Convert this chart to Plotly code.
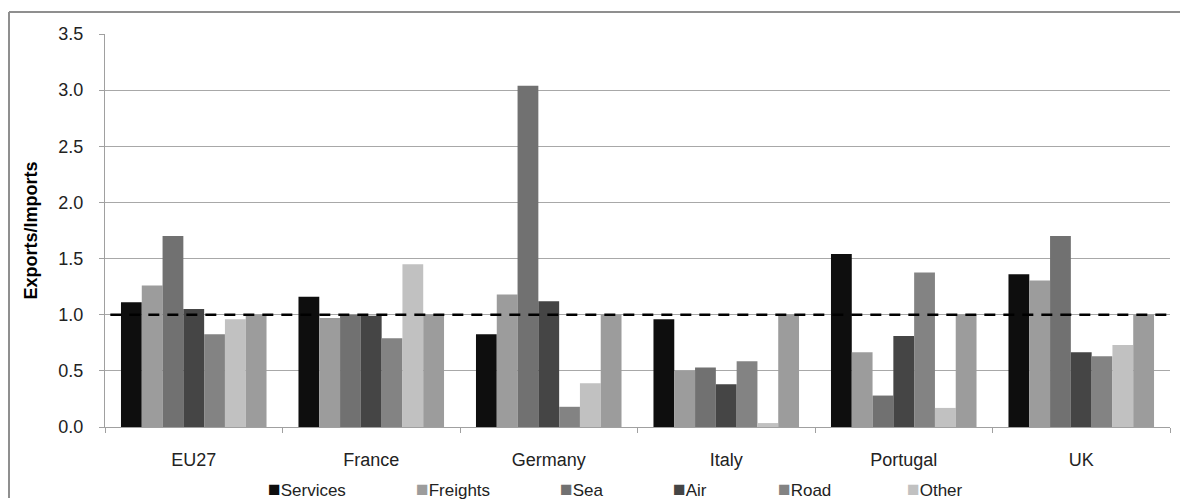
import plotly.graph_objects as go

# Export/import ratios by transport mode
countries = ["EU27", "France", "Germany", "Italy", "Portugal", "UK"]
services = [1.11, 1.16, 0.825, 0.96, 1.54, 1.36]
freights = [1.26, 0.97, 1.18, 0.50, 0.665, 1.305]
sea = [1.70, 1.00, 3.04, 0.53, 0.28, 1.70]
air = [1.05, 0.99, 1.12, 0.38, 0.81, 0.665]
road = [0.825, 0.79, 0.18, 0.585, 1.375, 0.63]
other = [0.96, 1.45, 0.39, 0.035, 0.17, 0.73]
balance = [1.0, 1.0, 1.0, 1.0, 1.0, 1.0]  # parity bar, not listed in the legend
PARITY = 1.0

y_ticks = [0.0, 0.5, 1.0, 1.5, 2.0, 2.5, 3.0, 3.5]

series = [
    ("Services", services, "#0e0e0e", True),
    ("Freights", freights, "#9c9c9c", True),
    ("Sea", sea, "#717171", True),
    ("Air", air, "#454545", True),
    ("Road", road, "#838383", True),
    ("Other", other, "#c1c1c1", True),
    ("Balance", balance, "#9c9c9c", False),
]

FONT = "Liberation Sans, Arial, sans-serif"
W, H = 1181, 499
ML, MR, MT, MB = 105, 11, 34, 72
plot_w = W - ML - MR
plot_h = H - MT - MB

fig = go.Figure()
for name, vals, color, _ in series:
    fig.add_trace(go.Bar(
        x=countries, y=vals, name=name,
        marker=dict(color=color, line=dict(width=0)),
        showlegend=False,
    ))

# dashed parity line across the whole plot
fig.add_shape(type="line", xref="x domain", yref="y", x0=0.005, x1=0.998,
              y0=PARITY, y1=PARITY,
              line=dict(color="#000000", width=2.5, dash="11px,8px"))

# outer chart frame (top and left edges)
def px_to_paper_x(px):
    return (px - ML) / plot_w

def py_to_paper_y(py):
    return (H - MB - py) / plot_h

frame = dict(color="#8f8f8f", width=2)
fig.add_shape(type="line", xref="paper", yref="paper",
              x0=px_to_paper_x(9), x1=px_to_paper_x(W - 1),
              y0=py_to_paper_y(12), y1=py_to_paper_y(12),
              line=frame, layer="below")
fig.add_shape(type="line", xref="paper", yref="paper",
              x0=px_to_paper_x(9), x1=px_to_paper_x(9),
              y0=py_to_paper_y(12), y1=py_to_paper_y(H - 1),
              line=frame, layer="below")

# legend entries
legend_x = [266, 414, 558, 671, 776, 905]
for (name, _, color, shown), lx in zip(series, legend_x):
    if not shown:
        continue
    fig.add_annotation(
        xref="paper", yref="paper",
        x=px_to_paper_x(lx), y=py_to_paper_y(488),
        xanchor="left", yanchor="middle", showarrow=False,
        text=f'<span style="color:{color};font-size:21px">■</span>{name}',
        font=dict(family=FONT, size=17, color="#222222"),
    )

fig.update_layout(
    width=W, height=H,
    margin=dict(l=ML, r=MR, t=MT, b=MB, pad=0),
    paper_bgcolor="white", plot_bgcolor="white",
    barmode="group", bargap=0.18, bargroupgap=0,
    showlegend=False,
    font=dict(family=FONT, size=18, color="#222222"),
)
fig.update_xaxes(
    type="category", tickson="boundaries",
    ticks="outside", ticklen=5, tickcolor="#a0a0a0", tickwidth=1,
    showline=True, linecolor="#a0a0a0", linewidth=1,
    showgrid=False, ticklabelstandoff=16,
    tickfont=dict(family=FONT, size=18, color="#222222"),
)
fig.update_yaxes(
    range=[0, 3.5], tickvals=y_ticks,
    ticktext=[f"{v:.1f}" for v in y_ticks],
    ticks="outside", ticklen=5, tickcolor="#a0a0a0", tickwidth=1,
    showline=True, linecolor="#a0a0a0", linewidth=1,
    showgrid=True, gridcolor="#a8a8a8", gridwidth=1,
    zeroline=False, ticklabelstandoff=12,
    tickfont=dict(family=FONT, size=18, color="#222222"),
    title=dict(text="<b>Exports/Imports</b>", standoff=16,
               font=dict(family=FONT, size=18, color="#000000")),
)

fig.write_html("out.html")
